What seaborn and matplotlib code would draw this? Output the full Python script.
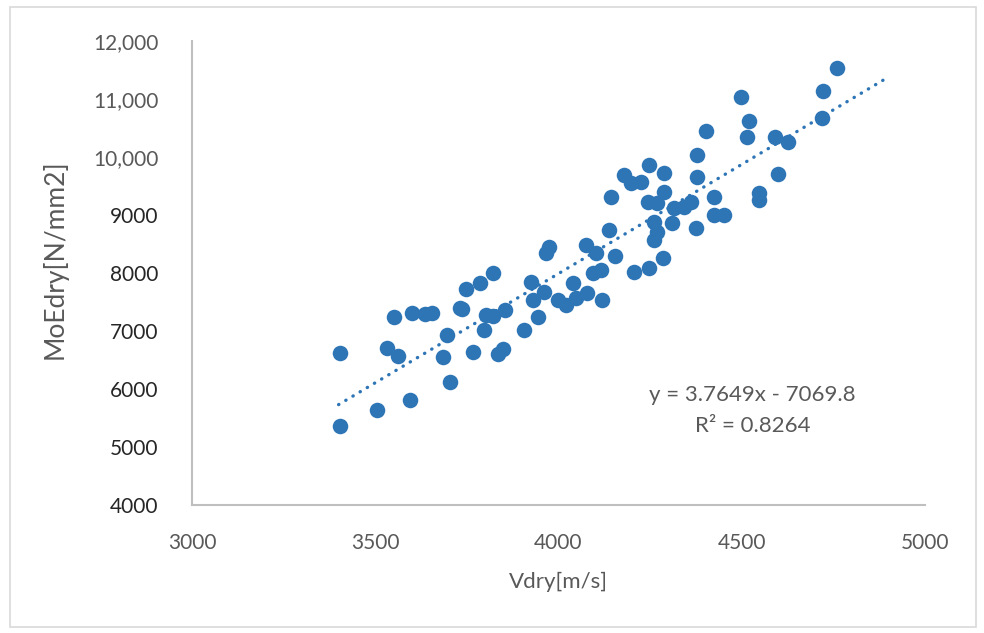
import matplotlib
matplotlib.use("Agg")
import matplotlib.pyplot as plt
from matplotlib.patches import Rectangle
import numpy as np
import pandas as pd
import seaborn as sns

# Sound velocity (dry) against dynamic modulus of elasticity (dry)
vdry = [
    3404, 3404, 3506, 3594, 3550, 3533, 3561, 3601, 3635, 3656,
    3705, 3685, 3696, 3730, 3737, 3748, 3787, 3822, 3768, 3798,
    3801, 3821, 3835, 3849, 3853, 3907, 3943, 3925, 3930, 3961,
    3966, 3975, 3998, 4020, 4039, 4048, 4075, 4102, 4079, 4093,
    4116, 4120, 4138, 4155, 4379, 4379, 4247, 4288, 4179, 4197,
    4224, 4143, 4288, 4243, 4270, 4315, 4342, 4361, 4424, 4424,
    4261, 4270, 4311, 4261, 4374, 4286, 4206, 4247, 4760, 4723,
    4719, 4497, 4519, 4513, 4403, 4592, 4625, 4598, 4546, 4546,
    4451,
]
moedry = [
    6626, 5367, 5638, 5810, 7247, 6712, 6569, 7316, 7288, 7305,
    6116, 6557, 6926, 7391, 7384, 7719, 7822, 7995, 6638, 7017,
    7271, 7259, 6603, 6690, 7362, 7017, 7247, 7850, 7534, 7678,
    8340, 8443, 7534, 7448, 7822, 7564, 8483, 8340, 7650, 7995,
    8052, 7534, 8741, 8290, 10034, 9660, 9862, 9719, 9690, 9547,
    9574, 9316, 9402, 9229, 9202, 9116, 9143, 9229, 9316, 9000,
    8884, 8712, 8857, 8569, 8771, 8253, 8022, 8081, 11529, 11143,
    10678, 11029, 10626, 10340, 10448, 10340, 10253, 9702, 9379, 9259,
    9000,
]

# Linear trendline reported with the chart
slope = 3.7649
intercept = -7069.8
r_squared = 0.8264
trend_range = [3400, 4890]

x_ticks = [3000, 3500, 4000, 4500, 5000]
x_tick_labels = ["3000", "3500", "4000", "4500", "5000"]
y_ticks = [4000, 5000, 6000, 7000, 8000, 9000, 10000, 11000, 12000]
y_tick_labels = ["4000", "5000", "6000", "7000", "8000", "9000",
                 "10,000", "11,000", "12,000"]

BLUE = "#2E75B6"
GREY = "#595959"
DARK = "#262626"

sns.set_theme(style="white")
plt.rcParams["font.family"] = ["Lato", "DejaVu Sans"]

df = pd.DataFrame({"Vdry": vdry, "MoEdry": moedry})

fig = plt.figure(figsize=(9.84, 6.33), dpi=100)
fig.patch.set_facecolor("white")
ax = fig.add_axes([192 / 984, 1 - 505 / 633, (925 - 192) / 984, (505 - 41) / 633])

sns.scatterplot(data=df, x="Vdry", y="MoEdry", ax=ax, color=BLUE,
                s=125, linewidth=0, legend=False, zorder=3)

tx = np.array(trend_range, dtype=float)
ax.plot(tx, slope * tx + intercept, color=BLUE, lw=2.4,
        linestyle=(0, (0.1, 2.4)), dash_capstyle="round", zorder=2)

ax.set_xlim(3000, 5000)
ax.set_ylim(4000, 12000)
ax.set_xticks(x_ticks)
ax.set_xticklabels(x_tick_labels, fontsize=15, color=GREY)
ax.set_yticks(y_ticks)
ax.set_yticklabels(y_tick_labels, fontsize=15)
for lbl, val in zip(ax.get_yticklabels(), y_ticks):
    lbl.set_color(GREY if val >= 10000 else DARK)
ax.tick_params(axis="both", length=0)
ax.tick_params(axis="x", pad=20)
ax.tick_params(axis="y", pad=24)

for side in ("top", "right"):
    ax.spines[side].set_visible(False)
for side in ("left", "bottom"):
    ax.spines[side].set_color("#BFBFBF")
    ax.spines[side].set_linewidth(1.5)
ax.grid(False)

ax.set_xlabel("Vdry[m/s]", fontsize=16, color=GREY, labelpad=14)
ax.set_ylabel("MoEdry[N/mm2]", fontsize=19, color=GREY)
ax.yaxis.set_label_coords(-0.169, 0.53)

sign = "-" if intercept < 0 else "+"
ax.text(4530, 5900, f"y = {slope:.4f}x {sign} {abs(intercept):.1f}",
        ha="center", va="center", fontsize=16, color=GREY)
ax.text(4530, 5370, f"R² = {r_squared:.4f}",
        ha="center", va="center", fontsize=16, color=GREY)

fig.add_artist(Rectangle((10 / 984, 6 / 633), 966 / 984, 620 / 633,
                         transform=fig.transFigure, fill=False,
                         edgecolor="#D9D9D9", linewidth=1.2))

fig.savefig("out.png", dpi=100)
